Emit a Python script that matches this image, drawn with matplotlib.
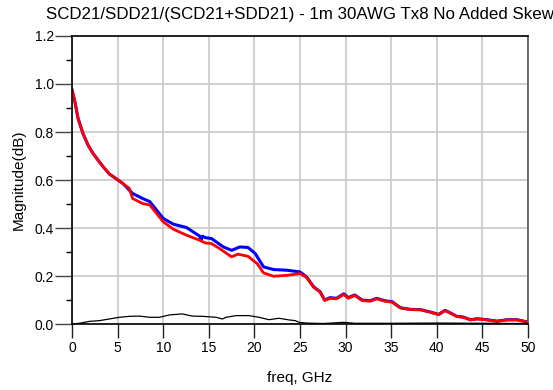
import matplotlib
matplotlib.use("Agg")
from matplotlib import pyplot as plt
from matplotlib.ticker import MultipleLocator, FormatStrFormatter

plt.rcParams['font.family'] = ['Liberation Sans', 'DejaVu Sans']

# red trace
freq_red = [0, 0.3, 0.66, 1.2, 1.75, 2.3, 2.85, 3.4, 3.72, 4.1, 4.93, 5.6, 6.28, 6.64, 7.74,
            8.53, 10.0, 11.1, 12.56, 14.0, 14.6, 15.3, 16.2, 17.5, 18.2, 19.3, 20.3,
            21.0, 22.1, 23.6, 25.0, 25.7, 26.5, 27.2,
            27.7, 28.3, 29.0, 29.8, 30.3, 31.0, 31.8, 32.7, 33.4, 34.3, 35.1, 36.0,
            37.1, 38.2, 39.3, 40.2, 40.9, 41.5, 42.2, 42.9, 43.7, 44.4, 45.5, 46.6,
            47.7, 48.8, 50]
mag_red = [0.975, 0.93, 0.857, 0.794, 0.746, 0.711, 0.683, 0.656, 0.642, 0.625, 0.603, 0.585,
           0.565, 0.523, 0.502, 0.496, 0.426, 0.395, 0.370, 0.349, 0.338, 0.335, 0.314,
           0.280, 0.291, 0.282, 0.252, 0.213, 0.199, 0.203, 0.210,
           0.195, 0.153, 0.133, 0.098, 0.107, 0.105, 0.123, 0.107, 0.119, 0.098,
           0.095, 0.105, 0.095, 0.091, 0.067, 0.060, 0.059, 0.049, 0.039, 0.056, 0.045,
           0.031, 0.028, 0.017, 0.021, 0.017, 0.011, 0.017, 0.017, 0.007]

# blue trace
freq_blue = [0, 0.3, 0.66, 1.2, 1.75, 2.3, 2.85, 3.4, 3.72, 4.1, 4.93, 5.6, 6.64, 7.74,
             8.53, 10.0, 11.1, 12.56, 14.0, 14.15, 14.3, 14.6, 15.3, 16.6, 17.5, 18.4,
             19.3, 20.1, 21.0, 22.1, 23.6, 25.0, 25.7, 26.5, 27.2, 27.7, 28.3,
             29.0, 29.8, 30.3, 31.0, 31.8, 32.7, 33.4, 34.3, 35.1, 36.0, 37.1, 38.2,
             39.3, 40.2, 40.9, 41.5, 42.2, 42.9, 43.7, 44.4, 45.5, 46.6, 47.7, 48.8, 50]
mag_blue = [0.975, 0.93, 0.857, 0.794, 0.746, 0.711, 0.683, 0.656, 0.642, 0.625, 0.603, 0.585,
            0.544, 0.523, 0.510, 0.440, 0.416, 0.402, 0.366, 0.350, 0.366, 0.360, 0.356,
            0.321, 0.307, 0.321, 0.319, 0.293, 0.238, 0.227, 0.224, 0.217,
            0.197, 0.155, 0.135, 0.100, 0.110, 0.107, 0.126, 0.110, 0.121, 0.100, 0.097,
            0.107, 0.097, 0.093, 0.068, 0.061, 0.060, 0.050, 0.040, 0.057, 0.046, 0.032,
            0.029, 0.018, 0.022, 0.018, 0.012, 0.018, 0.018, 0.008]

# black trace
freq_blk = [0, 0.8, 1.9, 3.0, 4.1, 5.2, 6.3, 7.4, 8.5, 9.6, 10.7, 12.1, 13.2, 14.3, 15.8,
            16.5, 16.9, 18.0, 19.4, 20.5, 21.6, 22.7, 23.8, 24.5, 24.9, 25.7, 27.5,
            29.8, 31.0, 35.0, 40.0, 45.0, 50]
mag_blk = [0.0, 0.003, 0.011, 0.014, 0.021, 0.028, 0.032, 0.033, 0.028, 0.028, 0.038, 0.042,
           0.033, 0.032, 0.028, 0.021, 0.028, 0.035, 0.035, 0.028, 0.018, 0.024, 0.017,
           0.014, 0.007, 0.004, 0.002, 0.007, 0.003, 0.003, 0.004, 0.003, 0.002]

fig = plt.figure(figsize=(5.53, 3.9), dpi=100)
ax = fig.add_axes([0.1302, 0.1692, 0.8246, 0.7385])

ax.plot(freq_blue, mag_blue, color='#0000ff', lw=2.2)
ax.plot(freq_red, mag_red, color='#ff0000', lw=2.0)
ax.plot(freq_blk, mag_blk, color='black', lw=0.9)

ax.set_xlim(0, 50)
ax.set_ylim(0, 1.2)
ax.xaxis.set_major_locator(MultipleLocator(5))
ax.yaxis.set_major_locator(MultipleLocator(0.2))
ax.yaxis.set_minor_locator(MultipleLocator(0.1))
ax.yaxis.set_major_formatter(FormatStrFormatter('%.1f'))
ax.grid(True, which='major', color='#c8c8c8', lw=1.2)
ax.set_axisbelow(True)
ax.tick_params(axis='y', which='major', length=12, width=1, color='#444444', labelsize=10, pad=1)
ax.tick_params(axis='y', which='minor', length=4, width=1, color='black')
ax.tick_params(axis='x', which='major', length=10, width=1, color='#222222', labelsize=10, pad=2)
for s in ax.spines.values():
    s.set_linewidth(1.2)
ax.spines['right'].set_color('#555555')

ax.set_xlabel('freq, GHz', fontsize=11, labelpad=12)
ax.set_ylabel('Magnitude(dB)', fontsize=11, labelpad=6)
ax.set_title('SCD21/SDD21/(SCD21+SDD21) - 1m 30AWG Tx8 No Added Skew', fontsize=12.2, pad=12)

plt.savefig('out.png', dpi=100)
